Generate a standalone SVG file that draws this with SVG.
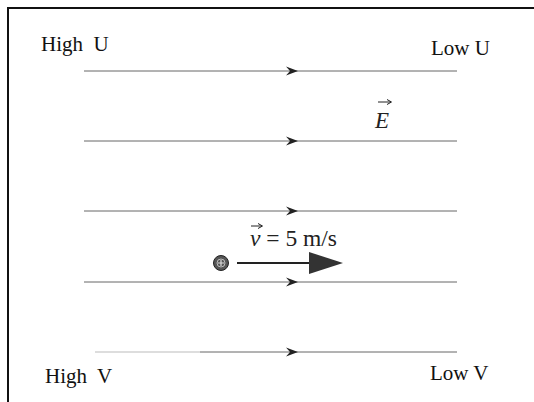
<svg xmlns="http://www.w3.org/2000/svg" width="534" height="402" viewBox="0 0 534 402">
<defs>
<style>
.fl{stroke:#666;stroke-width:1;fill:none}
.ch{fill:#222;stroke:none}
.t{font-family:"Liberation Serif",serif;font-size:21px;fill:#111;white-space:pre}
</style>
</defs>
<rect width="534" height="402" fill="#fff"/>
<path d="M8,402 V8 H534" stroke="#111" stroke-width="2" fill="none"/>
<g id="connectors">
<g id="line1"><line class="fl" x1="84" y1="71" x2="457" y2="71"/><path class="ch" d="M286,66.5 L298,71 L286,75.5 L290,71Z"/></g>
<g id="line2"><line class="fl" x1="84" y1="141" x2="457" y2="141"/><path class="ch" d="M286,136.5 L298,141 L286,145.5 L290,141Z"/></g>
<g id="line3"><line class="fl" x1="84" y1="211" x2="457" y2="211"/><path class="ch" d="M286,206.5 L298,211 L286,215.5 L290,211Z"/></g>
<g id="line4"><line class="fl" x1="84" y1="282" x2="457" y2="282"/><path class="ch" d="M286,277.5 L298,282 L286,286.5 L290,282Z"/></g>
<g id="line5"><line x1="95" y1="352" x2="200" y2="352" stroke="#bbb" stroke-width="1"/><line class="fl" x1="200" y1="352" x2="457" y2="352"/><path class="ch" d="M286,347.5 L298,352 L286,356.5 L290,352Z"/></g>
</g>
<g id="labels">
<text class="t" x="41" y="51" xml:space="preserve">High  U</text>
<text class="t" x="431" y="55">Low U</text>
<text class="t" x="45" y="383" xml:space="preserve">High  V</text>
<text class="t" x="430" y="380">Low V</text>
</g>
<g id="efield">
<text x="375" y="128" font-family="'Liberation Serif',serif" font-style="italic" font-size="23" fill="#222">E</text>
<line x1="378" y1="102" x2="391" y2="102" stroke="#222" stroke-width="1"/>
<path d="M387,99.5 L391.5,102 L387,104.5" stroke="#222" stroke-width="1" fill="none"/>
</g>
<g id="charge">
<circle cx="221" cy="263" r="7.5" fill="#555" stroke="#222" stroke-width="1"/>
<circle cx="221" cy="263" r="4" fill="none" stroke="#bbb" stroke-width="1"/>
<path d="M218,263 H224 M221,260 V266" stroke="#ddd" stroke-width="1.2"/>
</g>
<g id="velocity">
<line x1="237" y1="263" x2="312" y2="263" stroke="#222" stroke-width="2"/>
<path d="M309,252 L343,263 L309,274 Z" fill="#333"/>
<text x="250" y="246" font-family="'Liberation Serif',serif" font-size="23.5" fill="#222" xml:space="preserve"><tspan font-style="italic">v</tspan> = 5 m/s</text>
<line x1="251" y1="226" x2="262" y2="226" stroke="#222" stroke-width="1"/>
<path d="M258,223.5 L262.5,226 L258,228.5" stroke="#222" stroke-width="1" fill="none"/>
</g>
</svg>
